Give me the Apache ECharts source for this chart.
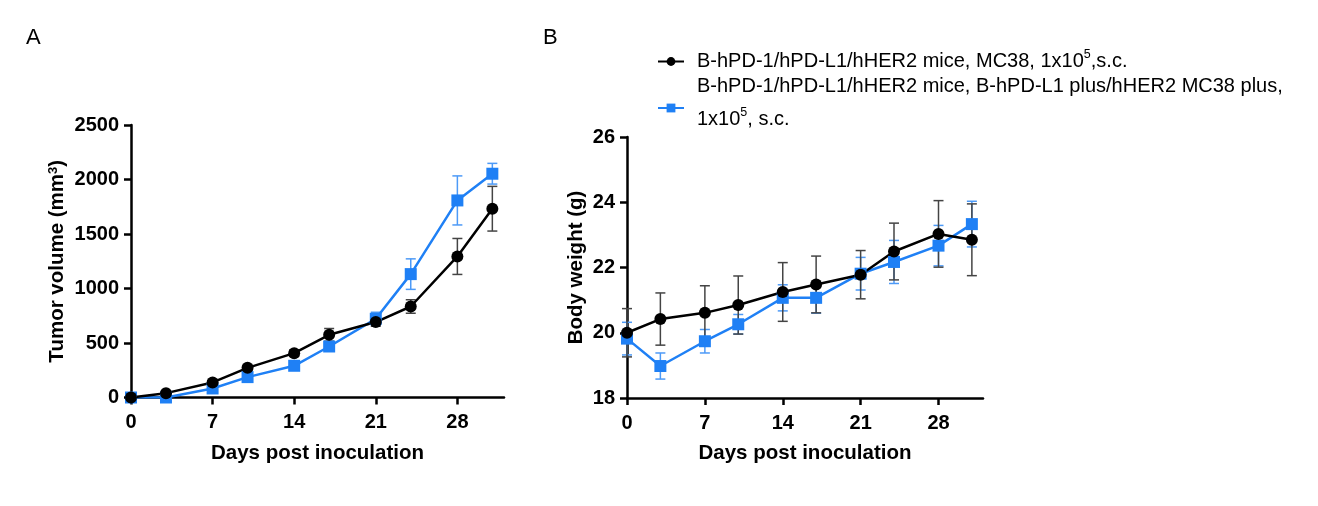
<!DOCTYPE html>
<html><head><meta charset="utf-8">
<script src="https://cdn.jsdelivr.net/npm/echarts@6/dist/echarts.min.js"></script>
<style>html,body{margin:0;padding:0;background:#fff}#c{width:1318px;height:506px}</style>
</head><body><div id="c"></div>
<script>
const days = [0, 3, 7, 10, 14, 17, 21, 24, 28, 31];
const xTicks = [0, 7, 14, 21, 28];
const tumorBlack = [0, 40, 138, 272, 407, 575, 692, 835, 1294, 1732];
const tumorBlackErr = [5, 10, 20, 25, 30, 58, 38, 62, 165, 205];
const tumorBlue = [0, 0, 83, 187, 291, 468, 722, 1132, 1808, 2053];
const tumorBlueErr = [5, 5, 15, 20, 25, 35, 60, 140, 225, 95];
const weightBlack = [20.00, 20.42, 20.61, 20.85, 21.25, 21.48, 21.78, 22.49, 23.03, 22.85];
const weightBlackErr = [0.74, 0.80, 0.83, 0.89, 0.90, 0.87, 0.74, 0.87, 1.02, 1.10];
const weightBlue = [19.82, 18.98, 19.74, 20.26, 21.07, 21.07, 21.81, 22.17, 22.67, 23.33];
const weightBlueErr = [0.50, 0.40, 0.36, 0.30, 0.40, 0.47, 0.50, 0.66, 0.62, 0.70];
const seriesNames = ['B-hPD-1/hPD-L1/hHER2 mice, MC38, 1x10{sup|5},s.c.',
  'B-hPD-1/hPD-L1/hHER2 mice, B-hPD-L1 plus/hHER2 MC38 plus,\n{l3|1x10}{sup3|5}{l3|, s.c.}'];

const BLUE = '#1f80f5';
const FONT = 'Liberation Sans';
const pair = (xs, ys) => xs.map((x, i) => [x, ys[i]]);
const triple = (xs, ys, es) => xs.map((x, i) => [x, ys[i], es[i]]);

function errRenderer(color) {
  return function (params, api) {
    const x = api.value(0), y = api.value(1), e = api.value(2);
    const t = api.coord([x, y + e]);
    const b = api.coord([x, y - e]);
    const w = 5;
    const st = { stroke: color, lineWidth: 1.5 };
    return { type: 'group', children: [
      { type: 'line', shape: { x1: t[0], y1: t[1], x2: b[0], y2: b[1] }, style: st },
      { type: 'line', shape: { x1: t[0] - w, y1: t[1], x2: t[0] + w, y2: t[1] }, style: st },
      { type: 'line', shape: { x1: b[0] - w, y1: b[1], x2: b[0] + w, y2: b[1] }, style: st }
    ]};
  };
}

const axisLine = { show: true, lineStyle: { color: '#000', width: 2.5 } };
const axisTick = { show: true, length: 7, lineStyle: { color: '#000', width: 2.5 } };
const labelStyle = { color: '#000', fontFamily: FONT, fontWeight: 'bold', fontSize: 20 };
const nameStyle = { color: '#000', fontFamily: FONT, fontWeight: 'bold', fontSize: 20.5 };

function xAxisFor(gridIndex) {
  return {
    type: 'value', gridIndex, min: 0, max: 32, interval: 7,
    axisLine, splitLine: { show: false },
    axisTick: Object.assign({}, axisTick, { customValues: xTicks }),
    axisLabel: Object.assign({}, labelStyle, { customValues: xTicks, margin: 15 }),
    name: 'Days post inoculation', nameLocation: 'middle', nameGap: 45,
    nameTextStyle: nameStyle
  };
}

const supStyle = { fontSize: 12.5, fontFamily: FONT, color: '#000', verticalAlign: 'middle', padding: [0, 0, 14, 0] };

const chart = echarts.init(document.getElementById('c'), null, { renderer: 'canvas' });
chart.setOption({
  animation: false,
  backgroundColor: '#fff',
  textStyle: { fontFamily: FONT },
  title: [
    { text: 'A', left: 21, top: 22, textStyle: { fontFamily: FONT, fontSize: 22, fontWeight: 'normal', color: '#000' } },
    { text: 'B', left: 538, top: 22, textStyle: { fontFamily: FONT, fontSize: 22, fontWeight: 'normal', color: '#000' } }
  ],
  legend: {
    orient: 'vertical', left: 657, top: 48, itemGap: 0, padding: 0,
    itemWidth: 26, itemHeight: 11,
    data: [{ name: seriesNames[0] }, { name: seriesNames[1] }],
    formatter: n => n,
    textStyle: {
      fontFamily: FONT, fontSize: 20, color: '#000', lineHeight: 23, padding: [0, 0, 0, 8],
      rich: {
        sup: Object.assign({}, supStyle, { lineHeight: 23 }),
        sup3: Object.assign({}, supStyle, { lineHeight: 43 }),
        l3: { fontFamily: FONT, fontSize: 20, color: '#000', lineHeight: 43 }
      }
    }
  },
  grid: [
    { left: 131, top: 125, width: 373, height: 272.5 },
    { left: 627, top: 137, width: 356, height: 261 }
  ],
  xAxis: [xAxisFor(0), xAxisFor(1)],
  yAxis: [
    { type: 'value', gridIndex: 0, min: 0, max: 2500, interval: 500,
      axisLine, axisTick, splitLine: { show: false },
      axisLabel: Object.assign({}, labelStyle, { margin: 12, formatter: v => String(v) }),
      name: 'Tumor volume (mm{sup|3})', nameLocation: 'middle', nameGap: 63, nameRotate: 90,
      nameTextStyle: Object.assign({}, nameStyle, { rich: { sup: { fontSize: 13, fontWeight: 'bold', fontFamily: FONT, color: '#000', verticalAlign: 'top', padding: [0, 0, 8, 0] } } }) },
    { type: 'value', gridIndex: 1, min: 18, max: 26, interval: 2,
      axisLine, axisTick, splitLine: { show: false },
      axisLabel: Object.assign({}, labelStyle, { margin: 12, formatter: v => String(v) }),
      name: 'Body weight (g)', nameLocation: 'middle', nameGap: 40, nameRotate: 90,
      nameTextStyle: nameStyle }
  ],
  series: [
    { type: 'custom', xAxisIndex: 0, yAxisIndex: 0, data: triple(days, tumorBlue, tumorBlueErr), renderItem: errRenderer('#4d9af7'), silent: true },
    { name: seriesNames[1], type: 'line', xAxisIndex: 0, yAxisIndex: 0, data: pair(days, tumorBlue),
      symbol: 'rect', symbolSize: 12, itemStyle: { color: BLUE }, lineStyle: { color: BLUE, width: 2.5 } },
    { type: 'custom', xAxisIndex: 0, yAxisIndex: 0, data: triple(days, tumorBlack, tumorBlackErr), renderItem: errRenderer('#444'), silent: true },
    { name: seriesNames[0], type: 'line', xAxisIndex: 0, yAxisIndex: 0, data: pair(days, tumorBlack),
      symbol: 'circle', symbolSize: 12, itemStyle: { color: '#000' }, lineStyle: { color: '#000', width: 2.5 } },

    { type: 'custom', xAxisIndex: 1, yAxisIndex: 1, data: triple(days, weightBlue, weightBlueErr), renderItem: errRenderer('#4d9af7'), silent: true },
    { name: seriesNames[1], type: 'line', xAxisIndex: 1, yAxisIndex: 1, data: pair(days, weightBlue),
      symbol: 'rect', symbolSize: 12, itemStyle: { color: BLUE }, lineStyle: { color: BLUE, width: 2.5 } },
    { type: 'custom', xAxisIndex: 1, yAxisIndex: 1, data: triple(days, weightBlack, weightBlackErr), renderItem: errRenderer('#444'), silent: true },
    { name: seriesNames[0], type: 'line', xAxisIndex: 1, yAxisIndex: 1, data: pair(days, weightBlack),
      symbol: 'circle', symbolSize: 12, itemStyle: { color: '#000' }, lineStyle: { color: '#000', width: 2.5 } }
  ]
});
</script>
</body></html>
